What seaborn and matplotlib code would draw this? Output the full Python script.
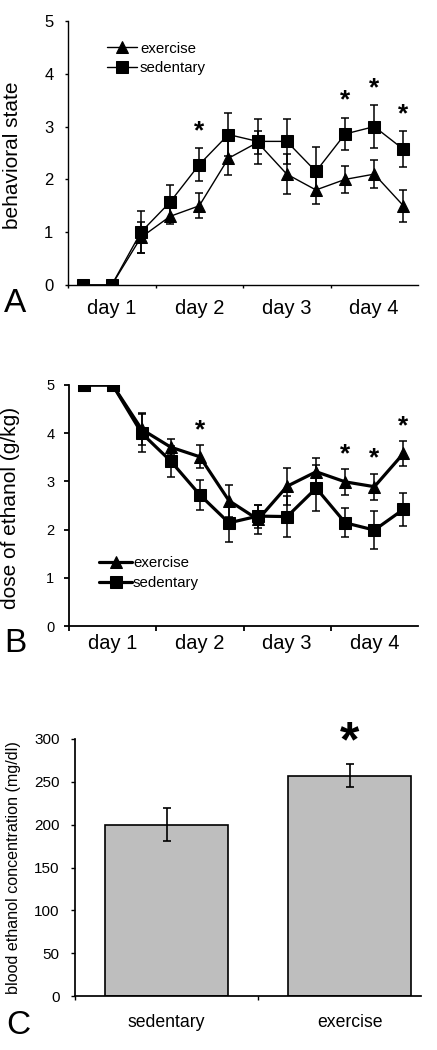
import numpy as np
import pandas as pd
import matplotlib
matplotlib.use("Agg")
import matplotlib.pyplot as plt
import seaborn as sns

# ---------------- data ----------------
sessions = list(range(12))
day_labels = ["day 1", "day 2", "day 3", "day 4"]
day_centers = [1, 4, 7, 10]
day_bounds = [-0.5, 2.5, 5.5, 8.5]

# Panel A: behavioral state
A_exercise = [0, 0, 0.90, 1.30, 1.50, 2.40, 2.70, 2.10, 1.80, 2.00, 2.10, 1.50]
A_exercise_err = [0, 0, 0.30, 0.15, 0.24, 0.32, 0.22, 0.38, 0.27, 0.26, 0.26, 0.30]
A_sedentary = [0, 0, 1.00, 1.57, 2.28, 2.85, 2.72, 2.72, 2.15, 2.86, 3.00, 2.57]
A_sedentary_err = [0, 0, 0.40, 0.33, 0.31, 0.41, 0.42, 0.43, 0.47, 0.31, 0.40, 0.34]
A_sig = [4, 9, 10, 11]

# Panel B: dose of ethanol (g/kg)
B_exercise = [5, 5, 4.08, 3.71, 3.51, 2.60, 2.21, 2.90, 3.20, 2.99, 2.89, 3.58]
B_exercise_err = [0, 0, 0.33, 0.16, 0.24, 0.33, 0.31, 0.38, 0.28, 0.27, 0.27, 0.26]
B_sedentary = [5, 5, 4.00, 3.42, 2.72, 2.14, 2.28, 2.27, 2.86, 2.14, 1.99, 2.42]
B_sedentary_err = [0, 0, 0.40, 0.32, 0.31, 0.40, 0.24, 0.42, 0.48, 0.30, 0.40, 0.34]
B_sig = [4, 9, 10, 11]

# Panel C: blood ethanol concentration
C_groups = ["sedentary", "exercise"]
C_values = [200, 257]
C_err = [19, 13.5]
C_sig = ["exercise"]

# ---------------- style ----------------
sns.set_theme(style="ticks")
plt.rcParams["font.family"] = ["Liberation Sans", "DejaVu Sans"]
plt.rcParams["axes.edgecolor"] = "black"
plt.rcParams["xtick.color"] = "black"
plt.rcParams["ytick.color"] = "black"
plt.rcParams["text.color"] = "black"
plt.rcParams["axes.labelcolor"] = "black"

fig = plt.figure(figsize=(4.37, 10.5), dpi=100)
W, H = 437, 1050

def add_axes(left, top, right, bottom):
    return fig.add_axes([left / W, 1 - bottom / H, (right - left) / W, (bottom - top) / H])

axA = add_axes(68, 21, 418, 285)
axB = add_axes(69, 385, 418, 626)
axC = add_axes(75, 739, 421, 996)


def line_panel(ax, ex, ex_err, sed, sed_err, lw, ms, spine_w, ytick_fs, xtick_pad, ytick_pad, ticklen):
    dfe = pd.DataFrame({"x": sessions, "y": ex})
    dfs = pd.DataFrame({"x": sessions, "y": sed})
    sns.lineplot(data=dfe, x="x", y="y", marker="^", color="black", linewidth=lw,
                 markersize=ms + 0.5, markeredgecolor="black", ax=ax, label="exercise", zorder=4)
    sns.lineplot(data=dfs, x="x", y="y", marker="s", color="black", linewidth=lw,
                 markersize=ms, markeredgecolor="black", ax=ax, label="sedentary", zorder=4)
    ax.errorbar(sessions, ex, yerr=ex_err, fmt="none", ecolor="black", elinewidth=1.1,
                capsize=2.6, capthick=1.1, zorder=3)
    ax.errorbar(sessions, sed, yerr=sed_err, fmt="none", ecolor="black", elinewidth=1.1,
                capsize=2.6, capthick=1.1, zorder=3)
    ax.set_xlim(-0.5, 11.5)
    ax.set_ylim(0, 5)
    ax.set_yticks([0, 1, 2, 3, 4, 5])
    ax.set_xticks(day_centers)
    ax.set_xticklabels(day_labels, fontsize=14.5)
    ax.set_xticks(day_bounds, minor=True)
    ax.tick_params(axis="x", which="major", length=0, pad=xtick_pad)
    ax.tick_params(axis="x", which="minor", length=ticklen, width=spine_w, direction="out")
    ax.tick_params(axis="y", length=ticklen, width=spine_w, labelsize=ytick_fs, pad=ytick_pad)
    for s in ["top", "right"]:
        ax.spines[s].set_visible(False)
    for s in ["left", "bottom"]:
        ax.spines[s].set_linewidth(spine_w)
    ax.set_xlabel("")


# Panel A
line_panel(axA, A_exercise, A_exercise_err, A_sedentary, A_sedentary_err,
           lw=1.0, ms=8.5, spine_w=1.0, ytick_fs=12, xtick_pad=10, ytick_pad=8, ticklen=2.5)
axA.set_ylabel("behavioral state", fontsize=15)
axA.yaxis.set_label_coords(-0.13, 0.49)
axA.legend(loc="upper left", bbox_to_anchor=(0.09, 0.95), frameon=False, fontsize=10.8,
           handlelength=2.0, handletextpad=0.2, labelspacing=0.35, borderpad=0)
for i in A_sig:
    axA.text(i, A_sedentary[i] + A_sedentary_err[i] + 0.32, "*", ha="center", va="center",
             fontsize=19, fontweight="bold")

# Panel B
line_panel(axB, B_exercise, B_exercise_err, B_sedentary, B_sedentary_err,
           lw=2.3, ms=8.2, spine_w=1.3, ytick_fs=10.5, xtick_pad=6, ytick_pad=7, ticklen=3.5)
axB.set_ylabel("dose of ethanol (g/kg)", fontsize=15)
axB.yaxis.set_label_coords(-0.14, 0.49)
axB.legend(loc="upper left", bbox_to_anchor=(0.065, 0.32), frameon=False, fontsize=10.8,
           handlelength=2.2, handletextpad=0.05, labelspacing=0.4, borderpad=0)
for i in B_sig:
    axB.text(i, B_exercise[i] + B_exercise_err[i] + 0.31, "*", ha="center", va="center",
             fontsize=19, fontweight="bold")

# Panel C
dfc = pd.DataFrame({"group": C_groups, "value": C_values})
sns.barplot(data=dfc, x="group", y="value", order=C_groups, color="#bebebe", saturation=1,
            edgecolor="black", linewidth=1.2, width=0.67, errorbar=None, ax=axC)
axC.errorbar(range(len(C_groups)), C_values, yerr=C_err, fmt="none", ecolor="black",
             elinewidth=1.2, capsize=2.8, capthick=1.2)
axC.set_xlim(-0.5, 1.39)
axC.set_ylim(0, 300)
axC.set_yticks(range(0, 301, 50))
axC.set_xticks([-0.5, 0.5], minor=True)
axC.tick_params(axis="x", which="major", length=0, pad=13, labelsize=12.7)
axC.tick_params(axis="x", which="minor", length=3, width=1.0)
axC.tick_params(axis="y", length=3, width=1.0, labelsize=11, pad=8)
for s in ["top", "right"]:
    axC.spines[s].set_visible(False)
axC.set_xlabel("")
axC.set_ylabel("blood ethanol concentration (mg/dl)", fontsize=11.6)
axC.yaxis.set_label_coords(-0.155, 0.5)
for g in C_sig:
    j = C_groups.index(g)
    axC.text(j, C_values[j] + C_err[j] + 25, "*", ha="center", va="center",
             fontsize=36, fontweight="bold", clip_on=False)

# panel letters
fig.text(4 / W, 1 - 303 / H, "A", fontsize=24, va="center", ha="left")
fig.text(4 / W, 1 - 644 / H, "B", fontsize=24, va="center", ha="left")
fig.text(6 / W, 1 - 1026 / H, "C", fontsize=24, va="center", ha="left")

fig.savefig("out.png", dpi=100)
